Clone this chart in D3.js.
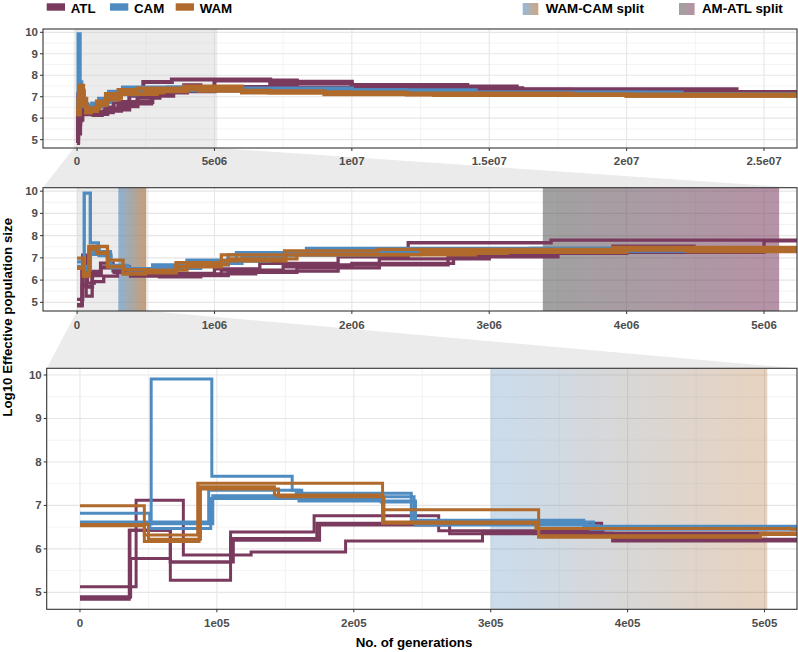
<!DOCTYPE html>
<html><head><meta charset="utf-8">
<script src="https://cdn.jsdelivr.net/npm/d3@7"></script>
<style>body{margin:0;background:#fff} svg{display:block} text{font-family:"Liberation Sans",Arial,sans-serif}</style>
</head><body><svg id="c" width="798" height="652"></svg>
<script>
// ---------- data ----------
const seriesNames = ["ATL", "CAM", "WAM"];
const atlRuns = [
 [[0,4.84],[3.6e4,6.43],[6.6e4,5.28],[1.10e5,6.39],[1.71e5,6.76],[2.62e5,6.42],[3.82e5,6.36],[5.5e5,6.30],[1.0e6,6.50],[1.33e6,6.75],[1.9e6,7.05],[2.41e6,7.68],[3.45e6,7.80],[7.03e6,7.62],[1.0e7,7.55],[1.42e7,7.39],[1.62e7,7.31],[2.3e7,7.19]],
 [[0,4.90],[3.7e4,5.78],[6.6e4,5.70],[1.1e5,6.24],[1.73e5,6.59],[3.81e5,6.36],[6.5e5,6.25],[1.05e6,6.45],[1.5e6,6.60],[2.0e6,6.75],[2.74e6,7.35],[3.9e6,7.53],[4.49e6,7.45],[8.0e6,7.42],[1.2e7,7.33],[1.8e7,7.25],[2.3e7,7.18]],
 [[0,5.13],[4.1e4,7.12],[7.55e4,5.86],[1.25e5,5.93],[1.94e5,6.18],[2.94e5,6.36],[3.89e5,6.18],[6.0e5,6.15],[9.0e5,6.28],[1.3e6,6.40],[1.9e6,6.68],[2.7e6,7.05],[3.5e6,7.25],[5.0e6,7.76],[8.0e6,7.70],[1.0e7,7.48],[1.6e7,7.35],[2.4e7,7.22]],
 [[0,4.88],[3.65e4,6.43],[6.6e4,5.70],[1.12e5,6.20],[1.75e5,6.55],[2.7e5,6.35],[3.9e5,6.22],[6.0e5,6.20],[1.1e6,6.35],[1.6e6,6.55],[2.2e6,6.95],[3.0e6,7.20],[4.0e6,7.30],[6.0e6,7.35],[1.0e7,7.30],[1.5e7,7.22],[2.2e7,7.15]]
];
const camRuns = [
 [[0,6.57],[5.2e4,9.91],[9.63e4,7.67],[1.55e5,7.35],[1.62e5,7.20],[2.44e5,6.60],[3.7e5,6.48],[5.5e5,6.68],[8.0e5,6.90],[1.16e6,7.23],[1.67e6,7.43],[3.9e6,7.35],[1.0e7,7.25],[1.45e7,7.12],[2.0e7,7.10]],
 [[0,6.82],[5.1e4,6.47],[9.55e4,7.16],[2.2e5,7.08],[2.45e5,6.55],[3.73e5,6.45],[5.5e5,6.59],[8.0e5,6.68],[1.1e6,7.13],[1.6e6,7.28],[3.3e6,7.43],[5.0e6,7.38],[1.0e7,7.30],[1.45e7,7.18],[2.05e7,7.10]],
 [[0,6.62],[9.4e4,7.35],[1.6e5,7.10],[2.45e5,6.66],[3.68e5,6.50],[6.0e5,6.53],[9.0e5,6.75],[1.2e6,7.05],[1.5e6,7.20],[2.5e6,7.30],[6.0e6,7.25],[1.4e7,7.15],[2.1e7,7.08]],
 [[0,6.58],[9.7e4,7.22],[1.58e5,7.28],[2.42e5,6.62],[3.75e5,6.52],[6.5e5,6.62],[1.0e6,6.85],[1.4e6,7.12],[2.2e6,7.33],[5.0e6,7.30],[1.2e7,7.20],[2.2e7,7.10]]
];
const wamRuns = [
 [[0,6.99],[4.7e4,6.32],[8.6e4,7.51],[2.21e5,6.90],[3.35e5,6.30],[4.97e5,6.36],[7.2e5,6.78],[1.05e6,7.13],[1.51e6,7.31],[2.19e6,7.38],[3.9e6,7.47],[6.0e6,7.25],[9.0e6,7.12],[1.3e7,7.08],[2.0e7,7.05]],
 [[0,6.53],[4.7e4,6.17],[8.7e4,7.43],[1.42e5,7.24],[2.21e5,6.59],[3.35e5,6.27],[4.97e5,6.33],[7.2e5,6.60],[1.05e6,6.87],[1.52e6,7.13],[2.9e6,7.20],[3.13e6,7.35],[4.44e6,7.28],[7.0e6,7.20],[1.2e7,7.10],[2.0e7,7.05]],
 [[0,6.56],[5.0e4,6.22],[8.8e4,7.38],[1.45e5,7.20],[2.22e5,6.62],[3.33e5,6.47],[5.2e5,6.45],[8.0e5,6.70],[1.1e6,6.95],[1.6e6,7.15],[2.5e6,7.25],[4.0e6,7.38],[6.0e6,7.20],[1.0e7,7.15],[1.8e7,7.10]]
];
const runEnd = 3e7;
const wamCamSplit = [3.0e5, 5.02e5];
const amAtlSplit = [3.39e6, 5.11e6];
const zoomWin1 = [-1.2e5, 5.1e6];
const zoomWin2 = [0, 5.2e5];
const yTicks = [5, 6, 7, 8, 9, 10];
const yMinor = [5.5, 6.5, 7.5, 8.5, 9.5];
const p1Ticks = [0, 5e6, 1e7, 1.5e7, 2e7, 2.5e7];
const p1Labels = ["0", "5e06", "1e07", "1.5e07", "2e07", "2.5e07"];
const p2Ticks = [0, 1e6, 2e6, 3e6, 4e6, 5e6];
const p2Labels = ["0", "1e06", "2e06", "3e06", "4e06", "5e06"];
const p3Ticks = [0, 1e5, 2e5, 3e5, 4e5, 5e5];
const p3Labels = ["0", "1e05", "2e05", "3e05", "4e05", "5e05"];
const splitNames = ["WAM-CAM split", "AM-ATL split"];
const yTitle = "Log10 Effective population size";
const xTitle = "No. of generations";

// ---------- styles ----------
const colors = {ATL: "#7A3A5E", CAM: "#4E8BC1", WAM: "#B06A2B"};
const greyAA = "#555555";
const svg = d3.select("#c");
const defs = svg.append("defs");
function grad(id, c1, c2) {
  const g = defs.append("linearGradient").attr("id", id).attr("x1", 0).attr("x2", 1).attr("y1", 0).attr("y2", 0);
  g.append("stop").attr("offset", "0%").attr("stop-color", c1);
  g.append("stop").attr("offset", "100%").attr("stop-color", c2);
}
grad("gWC", colors.CAM, colors.WAM);
grad("gAA", greyAA, colors.ATL);

const yDom = [4.61, 10.155];
const panels = [
  {l: 43, r: 797, t: 29, b: 148, dom: [-1.24e6, 2.62e7], ticks: p1Ticks, labels: p1Labels, minorStep: 2.5e6, lw: 4, labY: 165, zoom: zoomWin1, bands: []},
  {l: 43, r: 797, t: 187.7, b: 311, dom: [-0.248e6, 5.24e6], ticks: p2Ticks, labels: p2Labels, minorStep: 5e5, lw: 3.3, labY: 328.5, zoom: zoomWin2,
    bands: [{rng: wamCamSplit, g: "gWC", op: 0.6}, {rng: amAtlSplit, g: "gAA", op: 0.55}]},
  {l: 46.7, r: 797, t: 368.3, b: 609.3, dom: [-2.43e4, 5.237e5], ticks: p3Ticks, labels: p3Labels, minorStep: 5e4, lw: 3, labY: 627, zoom: null,
    bands: [{rng: wamCamSplit, g: "gWC", op: 0.3}]}
];
panels.forEach(p => {
  p.x = d3.scaleLinear().domain(p.dom).range([p.l, p.r]);
  p.y = d3.scaleLinear().domain(yDom).range([p.b, p.t]);
});

// connectors
const connG = svg.append("g");
[[panels[0], panels[1]], [panels[1], panels[2]]].forEach(([a, b]) => {
  const x0 = a.x(a.zoom[0]), x1 = a.x(a.zoom[1]);
  connG.append("polygon")
    .attr("points", [[x0, a.b], [x1, a.b], [b.r, b.t], [b.l, b.t]].map(d => d.join(",")).join(" "))
    .attr("fill", "#ebebeb");
});

const allRuns = [["ATL", atlRuns], ["CAM", camRuns], ["WAM", wamRuns]];

panels.forEach((p, i) => {
  const g = svg.append("g");
  const cid = "clip" + i;
  defs.append("clipPath").attr("id", cid).append("rect")
    .attr("x", p.l).attr("y", p.t).attr("width", p.r - p.l).attr("height", p.b - p.t);
  g.append("rect").attr("x", p.l).attr("y", p.t).attr("width", p.r - p.l).attr("height", p.b - p.t).attr("fill", "#fff");
  const inner = g.append("g").attr("clip-path", `url(#${cid})`);
  const minorXs = [p.ticks[0] - p.minorStep].concat(p.ticks.map(t => t + p.minorStep));
  inner.selectAll(".mx").data(minorXs).join("line")
    .attr("x1", d => p.x(d)).attr("x2", d => p.x(d)).attr("y1", p.t).attr("y2", p.b)
    .attr("stroke", "#f0f0f0").attr("stroke-width", 0.8);
  inner.selectAll(".my").data(yMinor).join("line")
    .attr("x1", p.l).attr("x2", p.r).attr("y1", d => p.y(d)).attr("y2", d => p.y(d))
    .attr("stroke", "#f0f0f0").attr("stroke-width", 0.8);
  inner.selectAll(".gx").data(p.ticks).join("line")
    .attr("x1", d => p.x(d)).attr("x2", d => p.x(d)).attr("y1", p.t).attr("y2", p.b)
    .attr("stroke", "#e6e6e6").attr("stroke-width", 1.1);
  inner.selectAll(".gy").data(yTicks).join("line")
    .attr("x1", p.l).attr("x2", p.r).attr("y1", d => p.y(d)).attr("y2", d => p.y(d))
    .attr("stroke", "#e6e6e6").attr("stroke-width", 1.1);
  if (p.zoom) {
    inner.append("rect").attr("x", p.x(p.zoom[0])).attr("y", p.t)
      .attr("width", p.x(p.zoom[1]) - p.x(p.zoom[0])).attr("height", p.b - p.t)
      .attr("fill", "#cccccc").attr("opacity", 0.38);
  }
  p.bands.forEach(bd => {
    inner.append("rect").attr("x", p.x(bd.rng[0])).attr("y", p.t)
      .attr("width", p.x(bd.rng[1]) - p.x(bd.rng[0])).attr("height", p.b - p.t)
      .attr("fill", `url(#${bd.g})`).attr("opacity", bd.op);
  });
  const line = d3.line().x(d => p.x(d[0])).y(d => p.y(d[1])).curve(d3.curveStepAfter);
  allRuns.forEach(([name, runs]) => {
    runs.forEach(run => {
      const pts = run.concat([[runEnd, run[run.length - 1][1]]]);
      inner.append("path").attr("d", line(pts)).attr("fill", "none")
        .attr("stroke", colors[name]).attr("stroke-width", p.lw);
    });
  });
  g.append("rect").attr("x", p.l).attr("y", p.t).attr("width", p.r - p.l).attr("height", p.b - p.t)
    .attr("fill", "none").attr("stroke", "#333").attr("stroke-width", 1.1);
  g.selectAll(".ty").data(yTicks).join("line")
    .attr("x1", p.l - 3).attr("x2", p.l).attr("y1", d => p.y(d)).attr("y2", d => p.y(d))
    .attr("stroke", "#333").attr("stroke-width", 1);
  g.selectAll(".ly").data(yTicks).join("text")
    .attr("x", p.l - 5).attr("y", d => p.y(d) + 4).attr("text-anchor", "end")
    .attr("font-size", 11.5).attr("font-weight", "bold").attr("fill", "#4d4d4d").text(d => d);
  g.selectAll(".tx").data(p.ticks).join("line")
    .attr("x1", d => p.x(d)).attr("x2", d => p.x(d)).attr("y1", p.b).attr("y2", p.b + 3)
    .attr("stroke", "#333").attr("stroke-width", 1);
  g.selectAll(".lx").data(p.ticks).join("text")
    .attr("x", d => p.x(d)).attr("y", p.labY).attr("text-anchor", "middle")
    .attr("font-size", 11.5).attr("font-weight", "bold").attr("fill", "#4d4d4d")
    .text((d, k) => p.labels[k]);
});

svg.append("text").attr("transform", "translate(11.7,317.3) rotate(-90)").attr("text-anchor", "middle")
  .attr("font-size", 13.3).attr("font-weight", "bold").attr("fill", "#000").text(yTitle);
svg.append("text").attr("x", 414).attr("y", 647).attr("text-anchor", "middle")
  .attr("font-size", 13.3).attr("font-weight", "bold").attr("fill", "#000").text(xTitle);

const legKeysX = [46.7, 110, 175.7];
seriesNames.forEach((n, k) => {
  svg.append("rect").attr("x", legKeysX[k]).attr("y", 3.3).attr("width", 18.3).attr("height", 7.4).attr("fill", colors[n]);
  svg.append("text").attr("x", legKeysX[k] + 24).attr("y", 12.6).attr("font-size", 13.3)
    .attr("font-weight", "bold").attr("fill", "#000").text(n);
});
const splitKeysX = [522.7, 679];
const splitGrads = [["gWC", 0.6], ["gAA", 0.55]];
splitNames.forEach((n, k) => {
  svg.append("rect").attr("x", splitKeysX[k]).attr("y", 3).attr("width", 15.6).attr("height", 12)
    .attr("fill", `url(#${splitGrads[k][0]})`).attr("opacity", splitGrads[k][1]);
  svg.append("text").attr("x", splitKeysX[k] + 23).attr("y", 12.6).attr("font-size", 13.3)
    .attr("font-weight", "bold").attr("fill", "#000").text(n);
});
</script></body></html>
